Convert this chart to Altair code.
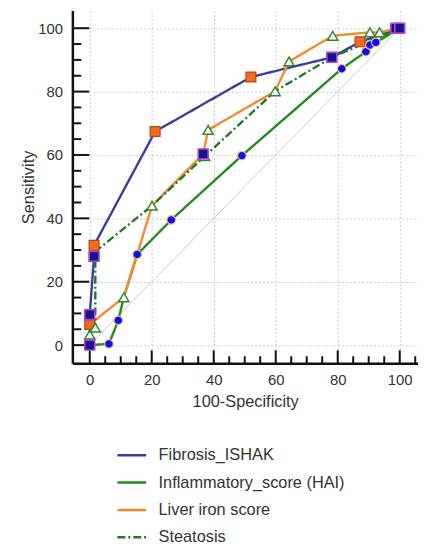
import altair as alt
import pandas as pd

# ---------------- data ----------------
series_names = ["Fibrosis_ISHAK", "Inflammatory_score (HAI)", "Liver iron score", "Steatosis"]

fib_x = [0, 0, 1.4, 1.4, 21.1, 52.0, 78.1, 87.2, 100]
fib_y = [0, 9.6, 28.0, 31.5, 67.4, 84.6, 90.8, 95.7, 100]

inf_x = [0, 6.2, 9.2, 11.0, 15.3, 26.3, 49.1, 81.3, 89.1, 90.4, 92.3, 100]
inf_y = [0, 0.4, 7.8, 15.1, 28.6, 39.5, 59.8, 87.2, 92.6, 94.7, 95.5, 100]

liv_x = [0, 0, 11.0, 15.3, 20.1, 36.6, 38.2, 59.8, 64.3, 78.4, 90.4, 93.5, 100]
liv_y = [0, 6.5, 15.1, 28.6, 44.0, 60.3, 67.9, 80.1, 89.5, 97.6, 98.7, 98.7, 100]

ste_x = [0, 0, 1.8, 1.8, 20.1, 37.1, 59.8, 78.1, 100]
ste_y = [0, 3.3, 5.5, 29.5, 44.0, 59.6, 80.1, 90.8, 100]

# markers (as drawn)
sq_orange_x = [0, 1.4, 21.1, 52.0, 87.2]
sq_orange_y = [6.5, 31.5, 67.4, 84.6, 95.7]
tri_x = [0, 1.8, 11.0, 20.1, 37.1, 38.2, 59.8, 64.3, 78.4, 90.4, 93.5]
tri_y = [3.3, 5.5, 15.1, 44.0, 59.6, 67.9, 80.1, 89.5, 97.6, 98.7, 98.7]
circ_x = [6.2, 9.2, 15.3, 26.3, 49.1, 81.3, 89.1, 90.4, 92.3]
circ_y = [0.4, 7.8, 28.6, 39.5, 59.8, 87.2, 92.6, 94.7, 95.5]
sq_navy_x = [0, 0, 1.4, 36.6, 78.1, 98.7, 100]
sq_navy_y = [0, 9.6, 28.0, 60.3, 90.8, 100, 100]

diag_x = [0, 100]
diag_y = [0, 100]

major_ticks = [0, 20, 40, 60, 80, 100]
minor_ticks = [5, 10, 15, 25, 30, 35, 45, 50, 55, 65, 70, 75, 85, 90, 95, 105]

line_colors = ["#3b3ba0", "#1f8c1f", "#f5892a", "#1e7a1e"]
line_dashes = [[1, 0], [1, 0], [1, 0], [8, 3, 2, 3]]

# ---------------- build tables ----------------
rows = []
for name, xs_, ys_ in zip(series_names, [fib_x, inf_x, liv_x, ste_x], [fib_y, inf_y, liv_y, ste_y]):
    for i, (a, b) in enumerate(zip(xs_, ys_)):
        rows.append({"series": name, "x": a, "y": b, "order": i})
lines_df = pd.DataFrame(rows)

W, H = 349, 356
XDOM = [-5.6, 105.9]
YDOM = [-5.7, 105.55]
FONT = "Liberation Sans"

xs = alt.Scale(domain=XDOM, nice=False, zero=False)
ys = alt.Scale(domain=YDOM, nice=False, zero=False)

x_axis = alt.Axis(values=major_ticks, grid=True, gridDash=[2, 2], gridColor="#c8c8c8",
                  ticks=False, domainColor="#111", domainWidth=2.5,
                  labelFontSize=15, labelColor="#333", labelPadding=10, labelFont=FONT,
                  title="100-Specificity", titleFontSize=16.5, titleFontWeight="normal",
                  titleColor="#333", titlePadding=6, titleFont=FONT)
y_axis = alt.Axis(values=major_ticks, grid=True, gridDash=[2, 2], gridColor="#c8c8c8",
                  ticks=False, domainColor="#111", domainWidth=2.5,
                  labelFontSize=15, labelColor="#333", labelPadding=10, labelFont=FONT,
                  title="Sensitivity", titleFontSize=16.5, titleFontWeight="normal",
                  titleColor="#333", titlePadding=1, titleFont=FONT)

base_axes = alt.Chart(pd.DataFrame({"x": diag_x, "y": diag_y})).mark_line(
    color="#d4c4c4", strokeWidth=1
).encode(
    x=alt.X("x:Q", scale=xs, axis=x_axis),
    y=alt.Y("y:Q", scale=ys, axis=y_axis),
)

lines = alt.Chart(lines_df).mark_line(strokeWidth=2.4).encode(
    x=alt.X("x:Q", scale=xs),
    y=alt.Y("y:Q", scale=ys),
    order="order:Q",
    color=alt.Color("series:N", scale=alt.Scale(domain=series_names, range=line_colors),
                    legend=alt.Legend(title=None)),
    strokeDash=alt.StrokeDash("series:N", scale=alt.Scale(domain=series_names, range=line_dashes),
                              legend=alt.Legend(title=None)),
)

def pts(xv, yv, shape, fill, stroke, size, sw):
    return alt.Chart(pd.DataFrame({"x": xv, "y": yv})).mark_point(
        shape=shape, filled=True, fill=fill, stroke=stroke, strokeWidth=sw, size=size, opacity=1
    ).encode(x=alt.X("x:Q", scale=xs), y=alt.Y("y:Q", scale=ys))

p_orange = pts(sq_orange_x, sq_orange_y, "square", "#f26a1b", "#b04a14", 100, 1.2)
p_tri = pts(tri_x, tri_y, "triangle-up", "white", "#2a8a2a", 105, 1.5)
p_circ = pts(circ_x, circ_y, "circle", "#0a0aff", "#f0c060", 75, 1.2)
p_navy = pts(sq_navy_x, sq_navy_y, "square", "#15158a", "#b040d0", 100, 1.6)

# inward tick marks
xt_major = alt.Chart(pd.DataFrame({"t": major_ticks})).mark_rule(color="#111", strokeWidth=2).encode(
    x=alt.X("t:Q", scale=xs), y=alt.value(H), y2=alt.value(H - 13))
xt_minor = alt.Chart(pd.DataFrame({"t": minor_ticks})).mark_rule(color="#111", strokeWidth=2).encode(
    x=alt.X("t:Q", scale=xs), y=alt.value(H), y2=alt.value(H - 7))
yt_major = alt.Chart(pd.DataFrame({"t": major_ticks})).mark_rule(color="#111", strokeWidth=2).encode(
    y=alt.Y("t:Q", scale=ys), x=alt.value(0), x2=alt.value(17))
yt_minor = alt.Chart(pd.DataFrame({"t": minor_ticks[:-1]})).mark_rule(color="#111", strokeWidth=2).encode(
    y=alt.Y("t:Q", scale=ys), x=alt.value(0), x2=alt.value(9))

chart = alt.layer(
    base_axes, xt_major, xt_minor, yt_major, yt_minor,
    lines, p_orange, p_tri, p_circ, p_navy
).properties(
    width=W, height=H,
    autosize=alt.AutoSizeParams(type="none"),
    padding={"left": 65, "top": 0, "right": 0, "bottom": 184},
).configure_view(stroke=None).configure_legend(
    orient="none", legendX=44, legendY=433, symbolType="stroke", symbolSize=841,
    symbolStrokeWidth=2.5, labelFontSize=16.5, labelFont=FONT, labelColor="#333",
    labelOffset=11, rowPadding=2.6, padding=0, offset=0, labelLimit=400,
)

chart.save("out.html", embed_options={"renderer": "svg", "actions": False})
